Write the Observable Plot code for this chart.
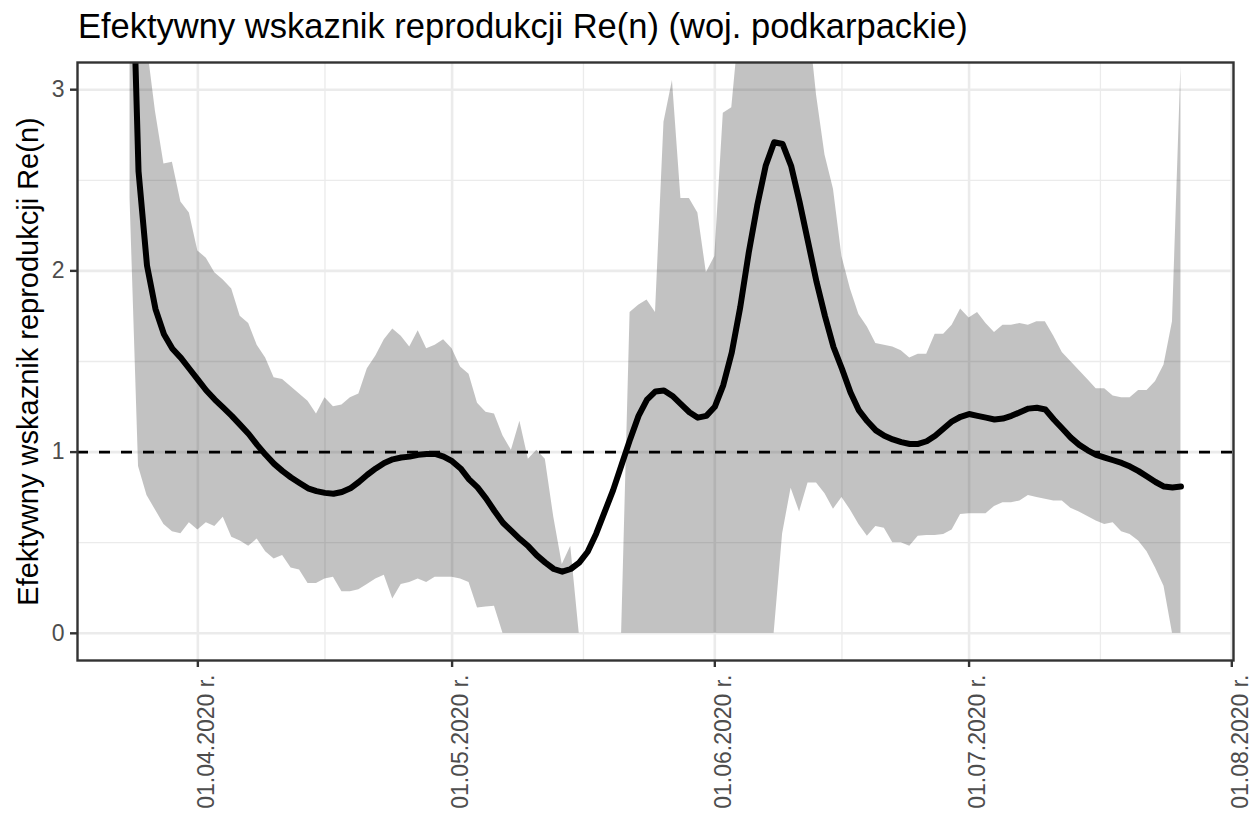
<!DOCTYPE html>
<html><head><meta charset="utf-8">
<script src="https://cdn.jsdelivr.net/npm/d3@7"></script>
<script src="https://cdn.jsdelivr.net/npm/@observablehq/plot@0.6"></script>
<style>
body{margin:0;background:#fff;font-family:"Liberation Sans",Arial,sans-serif;}
#title{position:absolute;left:78px;top:9px;font-size:34.5px;line-height:34px;color:#000;white-space:nowrap;}
#chart{position:absolute;left:0;top:50px;}
</style></head><body>
<div id="title">Efektywny wskaznik reprodukcji Re(n) (woj. podkarpackie)</div>
<div id="chart"></div>
<script>
const startDate = "2020-03-24";
const reLine = [4.2,2.55,2.03,1.79,1.65,1.57,1.52,1.46,1.40,1.34,
1.29,1.245,1.20,1.15,1.10,1.04,0.985,0.935,0.895,0.86,
0.83,0.80,0.785,0.775,0.77,0.78,0.80,0.835,0.875,0.91,
0.94,0.96,0.97,0.975,0.985,0.99,0.99,0.975,0.95,0.91,
0.85,0.805,0.745,0.675,0.61,0.565,0.52,0.48,0.43,0.39,
0.355,0.34,0.355,0.39,0.45,0.55,0.67,0.79,0.93,1.07,
1.20,1.29,1.335,1.34,1.31,1.265,1.22,1.19,1.20,1.25,
1.37,1.55,1.80,2.10,2.36,2.58,2.71,2.70,2.58,2.38,
2.16,1.94,1.75,1.58,1.46,1.33,1.23,1.17,1.12,1.09,
1.07,1.055,1.045,1.045,1.06,1.09,1.13,1.17,1.195,1.21,
1.20,1.19,1.18,1.185,1.20,1.22,1.24,1.245,1.235,1.18,
1.13,1.08,1.04,1.01,0.985,0.97,0.955,0.94,0.92,0.895,
0.865,0.835,0.81,0.805,0.81];
const reLower = [2.4,0.92,0.76,0.68,0.60,0.56,0.55,0.61,0.57,0.61,
0.59,0.64,0.53,0.51,0.48,0.52,0.45,0.41,0.43,0.36,
0.35,0.275,0.275,0.30,0.31,0.23,0.23,0.24,0.27,0.30,
0.32,0.19,0.27,0.28,0.30,0.28,0.31,0.31,0.31,0.30,
0.28,0.14,0.145,0.15,0,0,0,0,0,0,
0,0,0,0,0,0,0,0,0,0,
0,0,0,0,0,0,0,0,0,0,
0,0,0,0,0,0,0,0.55,0.80,0.67,
0.83,0.83,0.77,0.685,0.75,0.68,0.60,0.535,0.59,0.58,
0.50,0.50,0.48,0.535,0.54,0.54,0.546,0.57,0.655,0.66,
0.66,0.66,0.70,0.72,0.72,0.73,0.76,0.75,0.74,0.73,
0.73,0.69,0.67,0.645,0.62,0.60,0.61,0.56,0.546,0.51,
0.45,0.36,0.26,0,0];
const reUpper = [4.5,4.0,3.25,2.88,2.59,2.60,2.38,2.32,2.11,2.07,
1.99,1.95,1.90,1.75,1.71,1.59,1.52,1.41,1.40,1.36,
1.32,1.28,1.21,1.30,1.25,1.26,1.30,1.32,1.46,1.53,
1.62,1.68,1.64,1.58,1.67,1.57,1.59,1.62,1.57,1.47,
1.43,1.27,1.22,1.21,1.09,1.01,1.17,0.96,1.01,0.96,
0.64,0.38,0.48,0,0,0,0,0,0,1.77,
1.81,1.84,1.77,2.82,3.05,2.40,2.40,2.32,1.99,2.08,
2.87,2.90,3.4,3.9,4.2,4.4,4.5,4.4,4.1,3.8,
3.42,2.97,2.64,2.45,2.08,1.90,1.76,1.69,1.60,1.59,
1.58,1.56,1.52,1.54,1.54,1.65,1.65,1.70,1.79,1.74,
1.77,1.71,1.66,1.70,1.70,1.71,1.70,1.72,1.72,1.64,
1.55,1.50,1.45,1.40,1.35,1.35,1.31,1.30,1.30,1.34,
1.34,1.39,1.48,1.72,3.13];
const xTickDates = ["2020-04-01","2020-05-01","2020-06-01","2020-07-01","2020-08-01"];
const yTicks = [0,1,2,3];
const yMinor = [0.5,1.5,2.5];
const refLevel = [1];
const yLabel = "Efektywny wskaznik reprodukcji Re(n)";

const t0 = new Date(startDate + "T00:00:00Z");
const data = reLine.map((v, i) => ({date: d3.utcDay.offset(t0, i), re: v, lo: reLower[i], hi: reUpper[i]}));
const xMajor = xTickDates.map(s => new Date(s + "T00:00:00Z"));
const xMinor = d3.pairs(xMajor).map(([a, b]) => new Date((+a + +b) / 2));
const first = data[0].date, last = data[data.length - 1].date;
const span = last - first;
const xDomain = [new Date(+first - 0.05 * span), new Date(+last + 0.05 * span)];

const FONT = "Liberation Sans, Arial, sans-serif";
const chart = Plot.plot({
  width: 1252, height: 765,
  marginLeft: 77, marginRight: 19, marginTop: 12, marginBottom: 155,
  style: {fontFamily: FONT, background: "white", overflow: "visible"},
  x: {type: "utc", domain: xDomain, label: null},
  y: {domain: [-0.15, 3.15], label: null},
  marks: [
    Plot.ruleY(yMinor, {stroke: "#EBEBEB", strokeWidth: 1.3}),
    Plot.ruleX(xMinor, {stroke: "#EBEBEB", strokeWidth: 1.3}),
    Plot.ruleY(yTicks, {stroke: "#EBEBEB", strokeWidth: 2.6}),
    Plot.ruleX(xMajor, {stroke: "#EBEBEB", strokeWidth: 2.6}),
    Plot.areaY(data, {x: "date", y1: "lo", y2: "hi", fill: "black", fillOpacity: 0.24, clip: true}),
    Plot.ruleY(refLevel, {stroke: "black", strokeWidth: 2.8, strokeDasharray: "11,11"}),
    Plot.lineY(data, {x: "date", y: "re", stroke: "black", strokeWidth: 6, clip: true, strokeLinejoin: "round"}),
    Plot.frame({stroke: "#333333", strokeWidth: 2.4}),
    Plot.axisX({ticks: xMajor, tickFormat: () => "", tickSize: 7, stroke: "#333333", strokeWidth: 2.4, label: null}),
    Plot.axisX({ticks: xMajor, tickFormat: d3.utcFormat("%d.%m.%Y r."), tickRotate: -90, tickSize: 0, tickPadding: 14,
      fontSize: 23, fill: "#4D4D4D", label: null, dx: 9}),
    Plot.axisY({ticks: yTicks, tickFormat: d => String(d), tickSize: 7, tickPadding: 6,
      fontSize: 23, fill: "#4D4D4D", stroke: "#333333", strokeWidth: 2.4, label: null}),
    Plot.text([yLabel], {text: d => d, frameAnchor: "left", textAnchor: "middle", rotate: -90, dx: -49, fontSize: 29, fill: "black", lineAnchor: "middle"})
  ]
});
document.getElementById("chart").appendChild(chart);
</script>
</body></html>
